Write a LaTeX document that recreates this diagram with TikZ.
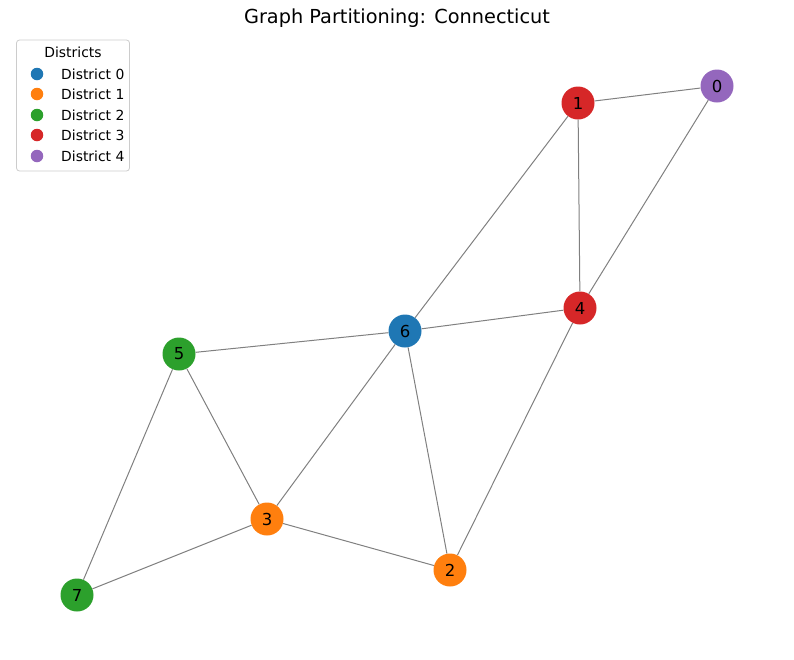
\documentclass[tikz,border=0pt]{standalone}
\usepackage{fontspec}
\setmainfont{DejaVu Sans}
\definecolor{tblue}{HTML}{1F77B4}
\definecolor{torange}{HTML}{FF7F0E}
\definecolor{tgreen}{HTML}{2CA02C}
\definecolor{tred}{HTML}{D62728}
\definecolor{tpurple}{HTML}{9467BD}
\begin{document}
\begin{tikzpicture}[x=1pt,y=-1pt,
  vtx/.style={circle,minimum size=33pt,inner sep=0pt,font=\fontsize{16.5}{18}\selectfont},
  edge/.style={draw=gray,line width=1pt},
  legmark/.style={circle,minimum size=12.5pt,inner sep=0pt},
  legtext/.style={anchor=west,font=\fontsize{13.9}{15}\selectfont,inner sep=0pt}]
\useasboundingbox (0,0) rectangle (794,659);
\node[font=\fontsize{19.3}{21}\selectfont] (title) at (397,18) {Graph Partitioning: Connecticut};
% nodes
\node[vtx,fill=tpurple] (n0) at (717,86) {0};
\node[vtx,fill=tred] (n1) at (578,103) {1};
\node[vtx,fill=torange] (n2) at (450,570) {2};
\node[vtx,fill=torange] (n3) at (267,519) {3};
\node[vtx,fill=tred] (n4) at (580,308) {4};
\node[vtx,fill=tgreen] (n5) at (179,354) {5};
\node[vtx,fill=tblue] (n6) at (405,331) {6};
\node[vtx,fill=tgreen] (n7) at (77,595) {7};
\foreach \a/\b in {n1/n0,n1/n6,n1/n4,n0/n4,n6/n4,n6/n5,n6/n3,n6/n2,n4/n2,n5/n3,n5/n7,n3/n7,n3/n2}
  \draw[edge] (\a) -- (\b);
% legend
\node[draw={rgb,255:red,204;green,204;blue,204},line width=0.8pt,rounded corners=3pt,fill=white,minimum width=113pt,minimum height=131pt,inner sep=0pt] (legend) at (73,105.5) {};
\node[font=\fontsize{13.9}{15}\selectfont] (legtitle) at (73,52) {Districts};
\node[legmark,fill=tblue] (m0) at (37,74) {};
\node[legtext] (t0) at (61,74) {District 0};
\node[legmark,fill=torange] (m1) at (37,94) {};
\node[legtext] (t1) at (61,94) {District 1};
\node[legmark,fill=tgreen] (m2) at (37,115) {};
\node[legtext] (t2) at (61,115) {District 2};
\node[legmark,fill=tred] (m3) at (37,135) {};
\node[legtext] (t3) at (61,135) {District 3};
\node[legmark,fill=tpurple] (m4) at (37,156) {};
\node[legtext] (t4) at (61,156) {District 4};
\end{tikzpicture}
\end{document}
